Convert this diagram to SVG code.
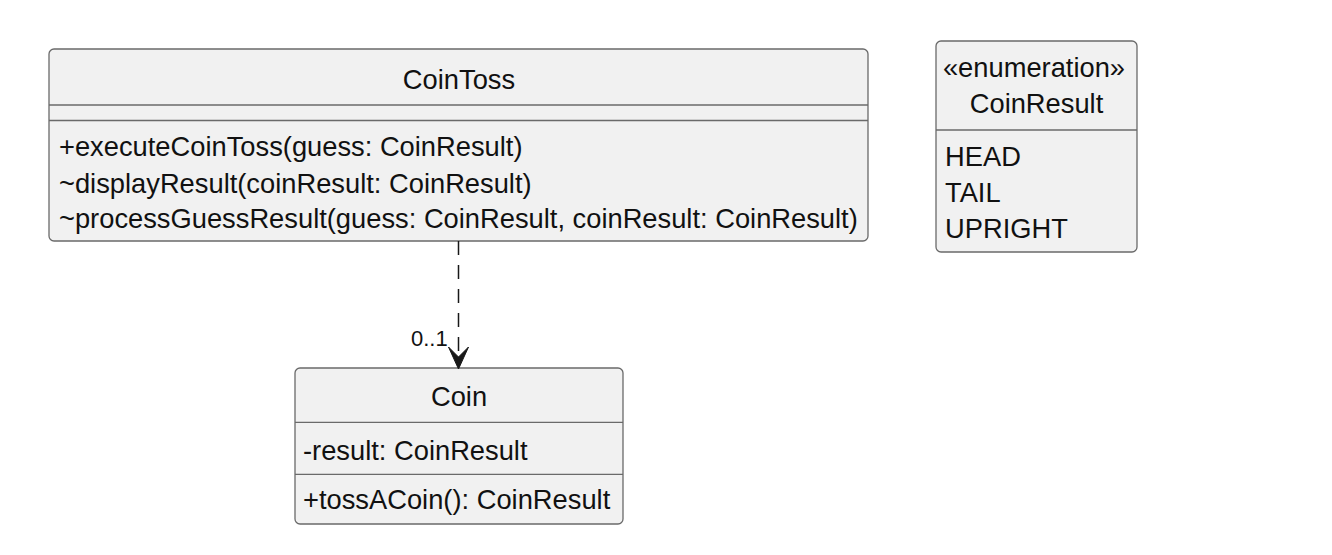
<svg xmlns="http://www.w3.org/2000/svg" width="1332" height="555" viewBox="0 0 1332 555">
<defs>
<style>
.box{fill:#F1F1F1;stroke:#6A6A6A;stroke-width:1.3}
.sep{stroke:#6A6A6A;stroke-width:1.3}
text{font-family:"Liberation Sans",Arial,sans-serif;font-size:27.3px;fill:#111}
.title{text-anchor:middle}
.edge{fill:none;stroke:#181818;stroke-width:1.5;stroke-dasharray:14,10}
.lbl{font-size:22px}
</style>
</defs>
<rect width="1332" height="555" fill="#FFFFFF"/>
<g id="CoinToss">
<rect class="box" x="49" y="49" width="819" height="192" rx="5" ry="5"/>
<text class="title" x="459" y="88.5">CoinToss</text>
<line class="sep" x1="49" y1="105" x2="868" y2="105"/>
<line class="sep" x1="49" y1="120.5" x2="868" y2="120.5"/>
<text x="59" y="156">+executeCoinToss(guess: CoinResult)</text>
<text x="59" y="192.5">~displayResult(coinResult: CoinResult)</text>
<text x="59" y="228.3">~processGuessResult(guess: CoinResult, coinResult: CoinResult)</text>
</g>
<g id="CoinResult">
<rect class="box" x="936" y="41" width="201" height="211" rx="5" ry="5"/>
<text class="title" x="1034" y="77">«enumeration»</text>
<text class="title" x="1036.5" y="113">CoinResult</text>
<line class="sep" x1="936" y1="130" x2="1137" y2="130"/>
<text x="945" y="165.7">HEAD</text>
<text x="945" y="201.7">TAIL</text>
<text x="945" y="237.7">UPRIGHT</text>
</g>
<g id="Coin">
<rect class="box" x="295" y="368" width="328" height="156" rx="5" ry="5"/>
<text class="title" x="459" y="406">Coin</text>
<line class="sep" x1="295" y1="422.3" x2="623" y2="422.3"/>
<text x="303" y="460">-result: CoinResult</text>
<line class="sep" x1="295" y1="474.3" x2="623" y2="474.3"/>
<text x="303" y="508.5">+tossACoin(): CoinResult</text>
</g>
<g id="connectors">
<path class="edge" d="M458.5,241 L458.5,362"/>
<polygon points="448.5,347 458.5,369 468.5,347 458.5,357" fill="#181818" stroke="#181818" stroke-width="1"/>
<text class="lbl" x="411" y="346">0..1</text>
</g>
</svg>
